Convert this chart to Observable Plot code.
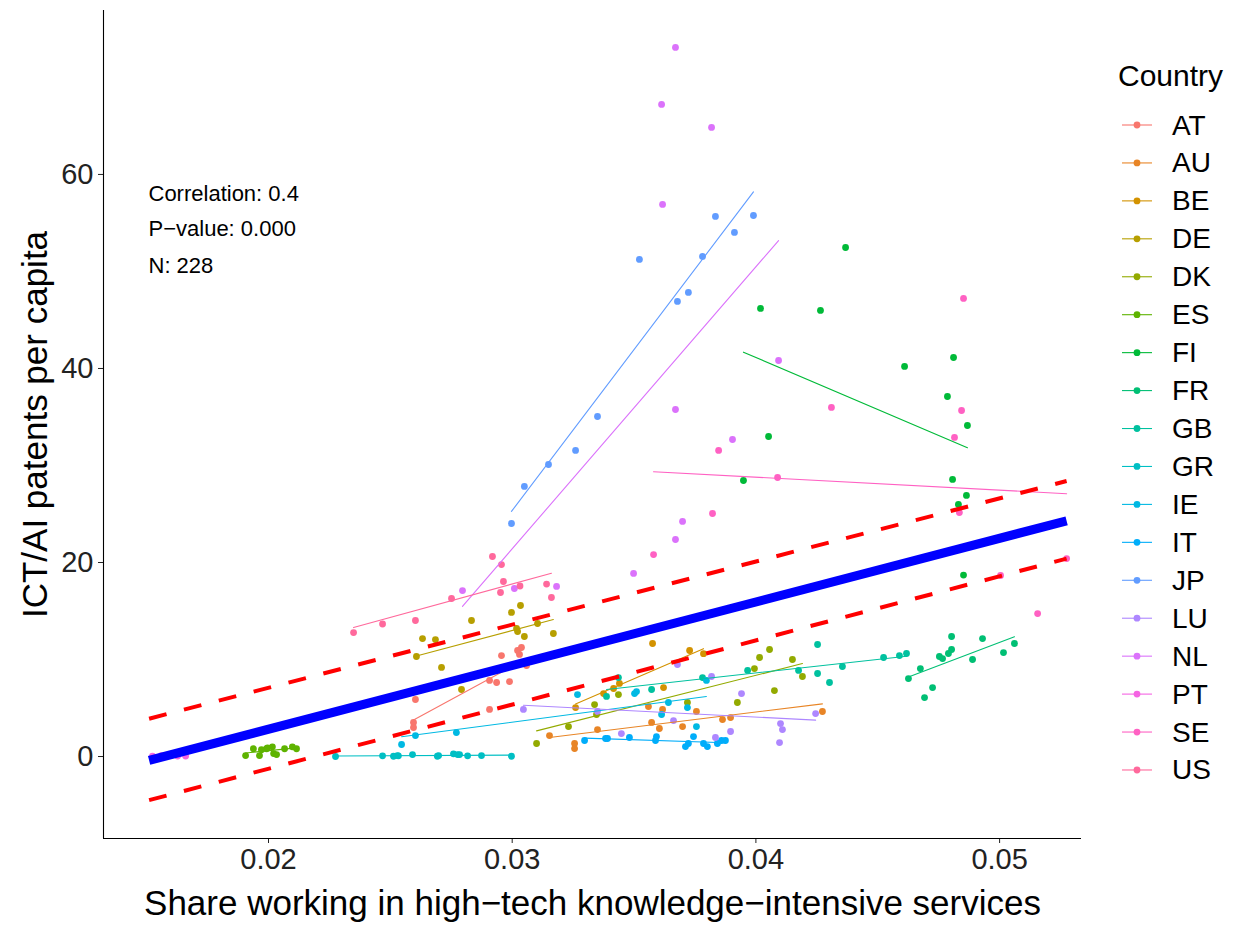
<!DOCTYPE html>
<html>
<head>
<meta charset="utf-8">
<script src="https://cdn.jsdelivr.net/npm/d3@7"></script>
<script src="https://cdn.jsdelivr.net/npm/@observablehq/plot@0.6"></script>
<style>
body { margin: 0; background: white; }
#wrap { position: relative; width: 1239px; height: 928px; font-family: "Liberation Sans", Arial, sans-serif; }
#legend { position: absolute; left: 0; top: 0; pointer-events: none; }
</style>
</head>
<body>
<div id="wrap"></div>
<script>
// ---------- data ----------
const countries = ["AT","AU","BE","DE","DK","ES","FI","FR","GB","GR","IE","IT","JP","LU","NL","PT","SE","US"];

const AT_x = [0.02603,0.02595,0.02595,0.02907,0.02907,0.02936,0.02956,0.02989,0.03022,0.03038,0.03030,0.03059];
const AT_y = [5.88,3.51,2.99,4.85,7.84,7.63,10.41,7.73,10.93,11.24,10.52,9.38];
const AU_x = [0.03153,0.03256,0.03256,0.03350,0.03559,0.03572,0.03604,0.03617,0.03699,0.03756,0.03863,0.03896,0.04273];
const AU_y = [2.16,1.34,0.82,2.78,5.15,3.51,2.89,4.85,3.09,4.64,3.81,4.02,4.64];
const BE_x = [0.03260,0.03375,0.03416,0.03440,0.03576,0.03621,0.03728,0.03785];
const BE_y = [5.05,6.49,7.01,7.53,11.65,7.11,10.93,10.60];
const DE_x = [0.02607,0.02632,0.02685,0.02710,0.02792,0.02833,0.02997,0.03034,0.03018,0.03022,0.03104,0.03169,0.03050];
const DE_y = [10.31,12.16,12.06,9.18,6.91,14.02,14.85,15.57,13.20,12.89,13.71,12.68,12.37];
const DK_x = [0.03100,0.03231,0.03338,0.03346,0.03436,0.03719,0.03924,0.03994,0.04015,0.04056,0.04076,0.04150,0.04191];
const DK_y = [1.34,3.09,5.36,4.33,6.39,5.57,5.57,9.07,10.21,11.03,6.80,10.00,8.25];
const ES_x = [0.01906,0.01938,0.01963,0.01971,0.01992,0.01996,0.02016,0.02021,0.02033,0.02066,0.02098,0.02115];
const ES_y = [0.10,0.80,0.10,0.70,0.80,0.90,1.00,0.30,0.20,0.80,1.00,0.80];
const FI_x = [0.04368,0.04019,0.04265,0.04610,0.04811,0.04786,0.04868,0.04052,0.03949,0.04807,0.04864,0.04831,0.04852];
const FI_y = [52.47,46.19,45.98,40.21,41.13,37.11,34.12,32.99,28.45,28.56,26.91,25.98,18.70];
const FR_x = [0.04626,0.04675,0.04692,0.04725,0.04753,0.04766,0.04790,0.04803,0.04803,0.04889,0.04930,0.05016,0.05061];
const FR_y = [8.04,9.07,6.08,7.11,10.31,10.10,10.62,11.03,12.37,10.00,12.16,10.72,11.65];
const GB_x = [0.03387,0.03436,0.03572,0.03781,0.03966,0.04175,0.04253,0.04253,0.04302,0.04355,0.04524,0.04589,0.04618];
const GB_y = [6.19,8.14,6.91,8.14,8.87,8.87,8.56,11.55,7.63,9.28,10.21,10.41,10.62];
const GR_x = [0.02275,0.02468,0.02513,0.02529,0.02533,0.02591,0.02693,0.02698,0.02759,0.02776,0.02784,0.02817,0.02874,0.02997];
const GR_y = [0.00,0.07,0.03,0.10,0.07,0.20,0.03,0.10,0.28,0.20,0.20,0.07,0.10,0.03];
const IE_x = [0.02546,0.02603,0.02771,0.03268,0.03502,0.03510,0.03641,0.03719,0.03613,0.03756,0.03797];
const IE_y = [1.24,2.16,2.47,6.39,6.49,6.70,5.57,5.05,4.33,3.09,7.84];
const IT_x = [0.03297,0.03383,0.03391,0.03481,0.03592,0.03588,0.03744,0.03711,0.03723,0.03785,0.03801,0.03842,0.03859,0.03875];
const IT_y = [1.65,1.86,1.86,1.96,2.06,1.65,2.06,1.03,1.34,1.34,1.03,1.34,1.65,1.65];
const JP_x = [0.02997,0.03050,0.03149,0.03260,0.03350,0.03522,0.03678,0.03723,0.03781,0.03834,0.03912,0.03990];
const JP_y = [24.02,27.84,30.10,31.55,35.05,51.24,46.91,47.84,51.55,55.67,54.02,55.77];
const LU_x = [0.03046,0.03350,0.03448,0.03662,0.03678,0.03818,0.03834,0.03896,0.03941,0.04101,0.04109,0.04097,0.04245];
const LU_y = [4.85,4.64,2.37,3.71,9.48,8.25,1.96,2.58,6.49,3.40,2.78,1.44,4.43];
const NL_x = [0.03670,0.03613,0.03818,0.03617,0.04093,0.03670,0.03904,0.03699,0.03670,0.03498,0.02796,0.03009,0.03182];
const NL_y = [73.09,67.22,64.85,56.91,40.82,35.77,32.68,24.23,22.37,18.87,17.11,17.32,17.53];
const PT_x = [0.01524,0.01560,0.01595,0.01627,0.01660];
const PT_y = [0.05,0.08,0.10,0.05,0.05];
const SE_x = [0.03580,0.03822,0.03847,0.04089,0.04310,0.04815,0.04844,0.04852,0.04835,0.05004,0.05156,0.05275];
const SE_y = [20.82,25.05,31.55,28.76,35.98,32.89,35.67,47.22,25.15,18.66,14.74,20.40];
const US_x = [0.02349,0.02468,0.02603,0.02751,0.02919,0.02956,0.02964,0.02952,0.03032,0.03141,0.03161];
const US_y = [12.78,13.66,14.02,16.29,20.62,19.79,18.04,16.91,17.58,17.78,16.39];

// overall fit and band
const fitX = [0.01510, 0.05275];
const fitY = [-0.40, 24.30];
const upperY = [3.90, 28.40];
const lowerY = [-4.50, 20.40];

const xTicks = [0.02, 0.03, 0.04, 0.05];
const yTicks = [0, 20, 40, 60];
const annotation = ["Correlation: 0.4", "P\u2212value: 0.000", "N: 228"];
const xTitle = "Share working in high\u2212tech knowledge\u2212intensive services";
const yTitle = "ICT/AI patents per capita";
const legendTitle = "Country";

// ---------- build ----------
const series = {AT:[AT_x,AT_y],AU:[AU_x,AU_y],BE:[BE_x,BE_y],DE:[DE_x,DE_y],DK:[DK_x,DK_y],ES:[ES_x,ES_y],
  FI:[FI_x,FI_y],FR:[FR_x,FR_y],GB:[GB_x,GB_y],GR:[GR_x,GR_y],IE:[IE_x,IE_y],IT:[IT_x,IT_y],JP:[JP_x,JP_y],
  LU:[LU_x,LU_y],NL:[NL_x,NL_y],PT:[PT_x,PT_y],SE:[SE_x,SE_y],US:[US_x,US_y]};
const data = [];
for (const c of countries) {
  const [xs, ys] = series[c];
  xs.forEach((x, i) => data.push({country: c, x, y: ys[i]}));
}
const fitRows = fitX.map((x, i) => ({x, y: fitY[i], up: upperY[i], lo: lowerY[i]}));

// ggplot2 hue palette (polar LUV, l=65, c=100)
function hclLuv(h, c, l) {
  const hr = h * Math.PI / 180;
  const U = c * Math.cos(hr), V = c * Math.sin(hr);
  const Xn = 95.047, Yn = 100, Zn = 108.883;
  const Y = l > 7.999592 ? Yn * Math.pow((l + 16) / 116, 3) : Yn * l / 903.3;
  const d = Xn + 15 * Yn + 3 * Zn;
  const un = 4 * Xn / d, vn = 9 * Yn / d;
  const Q = U / (13 * l) + un, R = V / (13 * l) + vn;
  const X = 9 * Y * Q / (4 * R);
  const Z = -X / 3 - 5 * Y + 3 * Y / R;
  const g = v => { v = v <= 0.0031308 ? 12.92 * v : 1.055 * Math.pow(v, 1 / 2.4) - 0.055; return Math.round(255 * Math.max(0, Math.min(1, v))); };
  const r = g((3.240479 * X - 1.537150 * Y - 0.498535 * Z) / Yn);
  const gg = g((-0.969256 * X + 1.875992 * Y + 0.041556 * Z) / Yn);
  const b = g((0.055648 * X - 0.204043 * Y + 1.057311 * Z) / Yn);
  return `rgb(${r},${gg},${b})`;
}
const colors = countries.map((c, i) => hclLuv(15 + 360 / countries.length * i, 100, 65));

const xDom = [0.013229, 0.053361];
const yDom = [-8.45, 76.9];
const font = "Liberation Sans, Arial, sans-serif";

const chart = Plot.plot({
  width: 1239, height: 928,
  marginLeft: 103, marginRight: 158, marginTop: 10, marginBottom: 90,
  style: {fontFamily: font, background: "white", overflow: "visible"},
  x: {domain: xDom},
  y: {domain: yDom},
  color: {domain: countries, range: colors},
  marks: [
    Plot.axisX({ticks: xTicks, tickFormat: d => d.toFixed(2), tickSize: 5, tickPadding: 5, fontSize: 29, label: null, color: "#222"}),
    Plot.axisY({ticks: yTicks, tickFormat: d => String(d), tickSize: 5, tickPadding: 5, fontSize: 29, label: null, color: "#222"}),
    Plot.ruleX([xDom[0]], {stroke: "black", strokeWidth: 1.1}),
    Plot.ruleY([yDom[0]], {stroke: "black", strokeWidth: 1.1}),
    Plot.dot(data, {x: "x", y: "y", fill: "country", r: 3.4}),
    Plot.linearRegressionY(data, {x: "x", y: "y", stroke: "country", ci: 0, strokeWidth: 1.1}),
    Plot.line(fitRows, {x: "x", y: "y", stroke: "blue", strokeWidth: 9, strokeLinecap: "butt"}),
    Plot.line(fitRows, {x: "x", y: "up", stroke: "red", strokeWidth: 4, strokeDasharray: "18,18", strokeLinecap: "butt"}),
    Plot.line(fitRows, {x: "x", y: "lo", stroke: "red", strokeWidth: 4, strokeDasharray: "18,18", strokeLinecap: "butt"}),
    Plot.text([annotation[0]], {frameAnchor: "top-left", dx: 45, dy: 183, textAnchor: "start", lineAnchor: "middle", fontSize: 22, fill: "black"}),
    Plot.text([annotation[1]], {frameAnchor: "top-left", dx: 45, dy: 218, textAnchor: "start", lineAnchor: "middle", fontSize: 22, fill: "black"}),
    Plot.text([annotation[2]], {frameAnchor: "top-left", dx: 45, dy: 255, textAnchor: "start", lineAnchor: "middle", fontSize: 22, fill: "black"}),
    Plot.text([xTitle], {frameAnchor: "bottom", dy: 65, textAnchor: "middle", lineAnchor: "middle", fontSize: 35, fill: "black"}),
    Plot.text([yTitle], {frameAnchor: "left", dx: -68, rotate: -90, textAnchor: "middle", lineAnchor: "middle", fontSize: 35, fill: "black"})
  ]
});
document.getElementById("wrap").appendChild(chart);

// legend
const lg = d3.select("#wrap").append("svg").attr("id", "legend").attr("width", 1239).attr("height", 928)
  .style("font-family", font);
lg.append("text").attr("x", 1118).attr("y", 75).attr("dominant-baseline", "central")
  .attr("font-size", 30).attr("fill", "black").text(legendTitle);
countries.forEach((c, i) => {
  const yy = 125 + i * 37.94;
  const g = lg.append("g");
  g.append("line").attr("x1", 1122).attr("x2", 1152).attr("y1", yy).attr("y2", yy).attr("stroke", colors[i]).attr("stroke-width", 1.1);
  g.append("circle").attr("cx", 1137).attr("cy", yy).attr("r", 3.4).attr("fill", colors[i]);
  g.append("text").attr("x", 1172).attr("y", yy).attr("dominant-baseline", "central").attr("font-size", 28).attr("fill", "black").text(c);
});
</script>
</body>
</html>
